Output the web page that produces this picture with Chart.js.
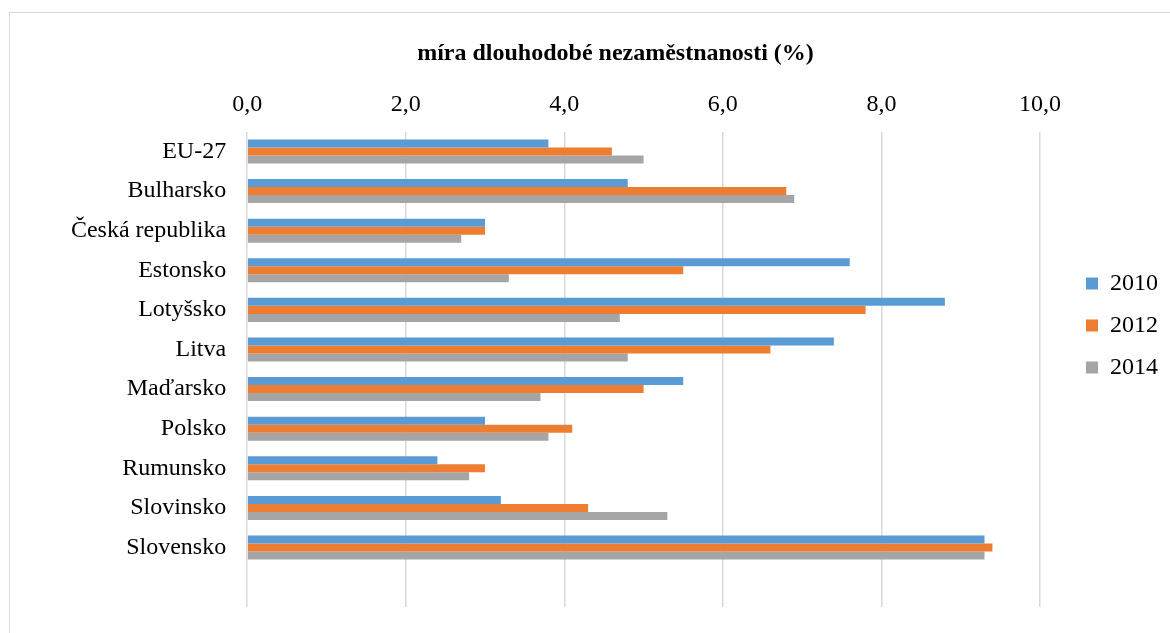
<!DOCTYPE html>
<html>
<head>
<meta charset="utf-8">
<script src="https://cdn.jsdelivr.net/npm/chart.js@4/dist/chart.umd.min.js"></script>
<style>
  html, body { margin: 0; padding: 0; background: #ffffff; overflow: hidden; }
  #frame { position: absolute; left: 9px; top: 12px; width: 1300px; height: 700px; border: 1px solid #d9d9d9; }
  #wrap { position: absolute; left: 10px; top: 13px; width: 1200px; height: 630px; }
</style>
</head>
<body>
<div id="frame"></div>
<div id="wrap"><canvas id="chart"></canvas></div>
<script>
// Long-term unemployment rate (%), selected EU countries
const countries = ['EU-27', 'Bulharsko', 'Česká republika', 'Estonsko', 'Lotyšsko', 'Litva',
                   'Maďarsko', 'Polsko', 'Rumunsko', 'Slovinsko', 'Slovensko'];
const values2010 = [3.8, 4.8, 3.0, 7.6, 8.8, 7.4, 5.5, 3.0, 2.4, 3.2, 9.3];
const values2012 = [4.6, 6.8, 3.0, 5.5, 7.8, 6.6, 5.0, 4.1, 3.0, 4.3, 9.4];
const values2014 = [5.0, 6.9, 2.7, 3.3, 4.7, 4.8, 3.7, 3.8, 2.8, 5.3, 9.3];
const seriesNames = ['2010', '2012', '2014'];
const xTickValues = [0, 2, 4, 6, 8, 10];
const xTickLabels = ['0,0', '2,0', '4,0', '6,0', '8,0', '10,0'];
const chartTitle = 'míra dlouhodobé nezaměstnanosti (%)';

const colors = ['#5b9bd5', '#ed7d31', '#a5a5a5'];
const serif = "'Liberation Serif', 'Times New Roman', serif";

// one spare slot below the last country leaves the empty band at the bottom
const axisLabels = countries.concat(['']);

new Chart(document.getElementById('chart'), {
  type: 'bar',
  data: {
    labels: axisLabels,
    datasets: [values2010, values2012, values2014].map((vals, i) => ({
      label: seriesNames[i],
      data: vals,
      backgroundColor: colors[i],
      borderWidth: 0,
      barPercentage: 1.0,
      categoryPercentage: 0.606
    }))
  },
  options: {
    indexAxis: 'y',
    responsive: true,
    maintainAspectRatio: false,
    animation: false,
    layout: { padding: { left: 53, right: 42, top: 31, bottom: 36 } },
    scales: {
      x: {
        position: 'top',
        min: 0,
        max: 10,
        afterBuildTicks: (scale) => { scale.ticks = xTickValues.map(v => ({ value: v })); },
        ticks: {
          padding: 12.6,
          color: '#000000',
          font: { family: serif, size: 24 },
          callback: (value) => xTickLabels[xTickValues.indexOf(value)]
        },
        grid: { color: '#d9d9d9', lineWidth: 1.5, drawTicks: false },
        border: { display: false }
      },
      y: {
        ticks: {
          padding: 21,
          color: '#000000',
          font: { family: serif, size: 24 },
          autoSkip: false
        },
        grid: { display: false, drawTicks: false },
        border: { display: false }
      },
      gap: {
        type: 'category',
        axis: 'y',
        position: 'right',
        ticks: { display: false },
        grid: { display: false, drawTicks: false },
        border: { display: false },
        afterFit: (scale) => { scale.width = 28; }
      }
    },
    plugins: {
      title: {
        display: true,
        text: chartTitle,
        color: '#000000',
        font: { family: serif, size: 24, weight: 'bold', lineHeight: 0.5 },
        padding: { top: 4, bottom: 17.6 }
      },
      legend: {
        position: 'right',
        align: 'center',
        labels: {
          boxWidth: 12,
          boxHeight: 12,
          padding: 18,
          color: '#000000',
          font: { family: serif, size: 24 }
        }
      },
      tooltip: { enabled: false }
    }
  }
});
</script>
</body>
</html>
